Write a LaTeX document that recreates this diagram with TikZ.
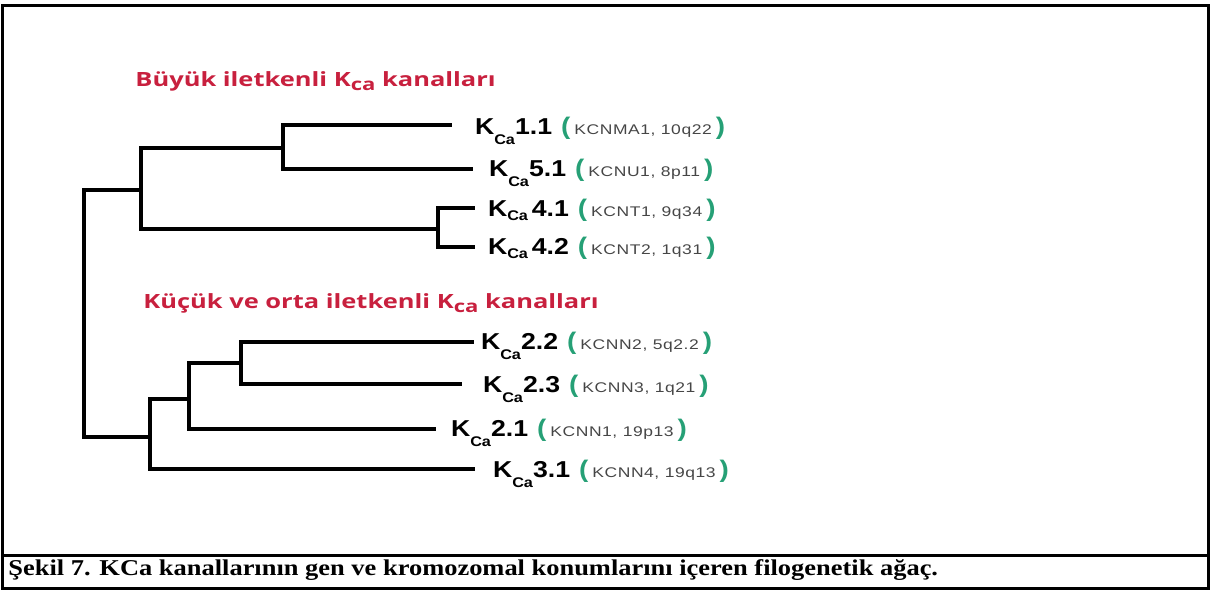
\documentclass[tikz,border=0pt]{standalone}
\usepackage{fontspec}
\setmainfont{Liberation Serif}
\newfontfamily\capfont{Liberation Serif}[FakeStretch=1.17]
\newfontfamily\headfont{Open Sans}[FakeStretch=1.3]
\newfontfamily\labfont{Liberation Sans}[FakeStretch=1.16]
\newfontfamily\genefont{Liberation Sans}[FakeStretch=1.25,LetterSpace=4]
\definecolor{headred}{RGB}{200,32,62}
\definecolor{pgreen}{RGB}{38,160,118}
\definecolor{genegray}{RGB}{70,70,70}
% #1 number, #2 gene text, #3 subscript drop
\newcommand{\kcl}[3]{{\labfont\bfseries\fontsize{11.5}{12}\selectfont K\raisebox{#3}{\fontsize{7}{8}\selectfont Ca}#1}\hspace{4.5pt}{\color{pgreen}\labfont\bfseries\fontsize{12}{13}\selectfont(}\hspace{2pt}{\color{genegray}\genefont\fontsize{7}{8}\selectfont #2}\hspace{2pt}{\color{pgreen}\labfont\bfseries\fontsize{12}{13}\selectfont)}}
\begin{document}
\begin{tikzpicture}[x=0.5pt,y=-0.5pt,
  branch/.style={line width=1.8pt,black,line join=miter},
  frame/.style={line width=1.5pt,black},
  lab/.style={anchor=base west,inner sep=0pt,outer sep=0pt},
  head/.style={anchor=base west,inner sep=0pt,text=headred,font=\headfont\bfseries\fontsize{9.8}{11}\selectfont},
  captext/.style={anchor=base west,inner sep=0pt,font=\capfont\bfseries\fontsize{11.3}{13}\selectfont}]
\useasboundingbox (0,0) rectangle (1210,589);
% frame
\draw[frame] (2,5) rectangle (1208,588);
\draw[frame] (2,555.5) -- (1208,555.5);
% headings
\node[head] (h1) at (135,86) {Büyük iletkenli K\raisebox{-0.45ex}{\fontsize{8.5}{9}\selectfont ca} kanalları};
\node[head] (h2) at (143,308) {Küçük ve orta iletkenli K\raisebox{-0.45ex}{\fontsize{8.5}{9}\selectfont ca} kanalları};
% tree coordinates
\coordinate (root) at (84,313);
\coordinate (n1) at (141,190);
\coordinate (n2) at (283,148);
\coordinate (n3) at (438,229);
\coordinate (m1) at (150,437);
\coordinate (m2) at (189,399);
\coordinate (m3) at (241,363);
\coordinate (l11) at (452,125);
\coordinate (l51) at (473,169);
\coordinate (l41) at (475,208);
\coordinate (l42) at (475,247);
\coordinate (l22) at (474,342);
\coordinate (l23) at (462,384);
\coordinate (l21) at (436,429);
\coordinate (l31) at (475,469);
% branches
\draw[branch] (root) |- (n1);
\draw[branch] (root) |- (m1);
\draw[branch] (n1) |- (n2);
\draw[branch] (n1) |- (n3);
\draw[branch] (n2) |- (l11);
\draw[branch] (n2) |- (l51);
\draw[branch] (n3) |- (l41);
\draw[branch] (n3) |- (l42);
\draw[branch] (m1) |- (m2);
\draw[branch] (m1) |- (l31);
\draw[branch] (m2) |- (m3);
\draw[branch] (m2) |- (l21);
\draw[branch] (m3) |- (l22);
\draw[branch] (m3) |- (l23);
% labels
\node[lab] (t11) at (475,134) {\kcl{1.1}{KCNMA1, 10q22}{-0.9ex}};
\node[lab] (t51) at (489,176) {\kcl{5.1}{KCNU1, 8p11}{-0.9ex}};
\node[lab] (t41) at (488,216) {\kcl{\,4.1}{KCNT1, 9q34}{-0.4ex}};
\node[lab] (t42) at (488,254) {\kcl{\,4.2}{KCNT2, 1q31}{-0.4ex}};
\node[lab] (t22) at (481,349) {\kcl{2.2}{KCNN2, 5q2.2}{-0.9ex}};
\node[lab] (t23) at (483,392) {\kcl{2.3}{KCNN3, 1q21}{-0.9ex}};
\node[lab] (t21) at (451,436) {\kcl{2.1}{KCNN1, 19p13}{-0.9ex}};
\node[lab] (t31) at (493,477) {\kcl{3.1}{KCNN4, 19q13}{-0.9ex}};
% caption
\node[captext] (caption) at (8,575) {Şekil 7. KCa kanallarının gen ve kromozomal konumlarını içeren filogenetik ağaç.};
\end{tikzpicture}
\end{document}
